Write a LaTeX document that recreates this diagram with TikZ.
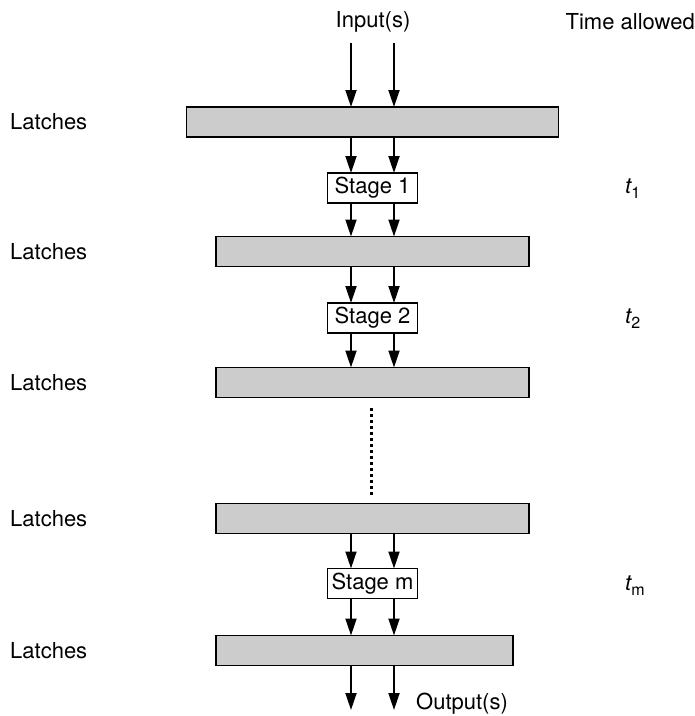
\documentclass[tikz,border=0pt]{standalone}
\usepackage{fontspec}
\setmainfont{TeX Gyre Heros}
\usetikzlibrary{arrows.meta}
\definecolor{latchgray}{HTML}{CCCCCC}
\tikzset{
  latch/.style={draw, fill=latchgray, line width=1.8pt, inner sep=0pt, outer sep=0pt, minimum height=30pt},
  stagebox/.style={draw, fill=white, line width=1.8pt, inner sep=0pt, outer sep=0pt, minimum width=90pt, minimum height=30pt, font=\fontsize{22}{25}\selectfont},
  lbl/.style={inner sep=0pt, font=\fontsize{22}{25}\selectfont},
  tlbl/.style={inner sep=0pt, font=\fontsize{22}{25}\selectfont},
  flow/.style={line width=1.8pt, -{Triangle[length=17pt,width=11pt]}},
  gap/.style={line width=3pt, dash pattern=on 3pt off 3pt}
}
\newcommand{\tsub}[1]{{\itshape t}\raisebox{-0.45ex}{\fontsize{16}{16}\selectfont #1}}
\begin{document}
\begin{tikzpicture}[x=1pt, y=-1pt]
  \useasboundingbox (0,0) rectangle (695,716);

  % columns of the two signal lines
  \coordinate (ca) at (351,0);
  \coordinate (cb) at (394,0);

  % latches
  \node[latch, minimum width=372pt] (L1) at (372.5,122) {};
  \node[latch, minimum width=313pt] (L2) at (372.5,251.5) {};
  \node[latch, minimum width=313pt] (L3) at (372.5,382.5) {};
  \node[latch, minimum width=313pt] (L4) at (372.5,518.5) {};
  \node[latch, minimum width=297pt] (L5) at (364.5,650.5) {};

  % stages
  \node[stagebox] (S1) at (372.5,188) {Stage 1};
  \node[stagebox] (S2) at (372.5,318) {Stage 2};
  \node[stagebox] (Sm) at (372.5,583.5) {Stage m};

  % labels
  \node[lbl, anchor=west] (la1) at (10,122) {Latches};
  \node[lbl, anchor=west] (la2) at (10,252) {Latches};
  \node[lbl, anchor=west] (la3) at (10,383) {Latches};
  \node[lbl, anchor=west] (la4) at (10,519) {Latches};
  \node[lbl, anchor=west] (la5) at (10,651) {Latches};
  \node[lbl] (inp) at (373,22) {Input(s)};
  \node[lbl, anchor=west] (outp) at (416,704) {Output(s)};
  \node[lbl, anchor=east] (time) at (695,22) {Time allowed};
  \node[tlbl, anchor=west] (t1) at (625,189) {\tsub{1}};
  \node[tlbl, anchor=west] (t2) at (625,319) {\tsub{2}};
  \node[tlbl, anchor=west] (tm) at (625,586) {\tsub{m}};

  % inputs and outputs
  \coordinate (ina) at (351,43);
  \coordinate (inb) at (394,43);
  \coordinate (outa) at (351,710);
  \coordinate (outb) at (394,710);
  \draw[flow] (ina) -- (L1.north -| ca);
  \draw[flow] (inb) -- (L1.north -| cb);

  % signal paths between latches and stages
  \foreach \u/\v in {L1/S1, S1/L2, L2/S2, S2/L3, L4/Sm, Sm/L5} {
    \draw[flow] (\u.south -| ca) -- (\v.north -| ca);
    \draw[flow] (\u.south -| cb) -- (\v.north -| cb);
  }
  \draw[flow] (L5.south -| ca) -- (outa);
  \draw[flow] (L5.south -| cb) -- (outb);

  % omitted stages
  \coordinate (da) at (371.5,408);
  \coordinate (db) at (371.5,495);
  \draw[gap] (da) -- (db);
\end{tikzpicture}
\end{document}
